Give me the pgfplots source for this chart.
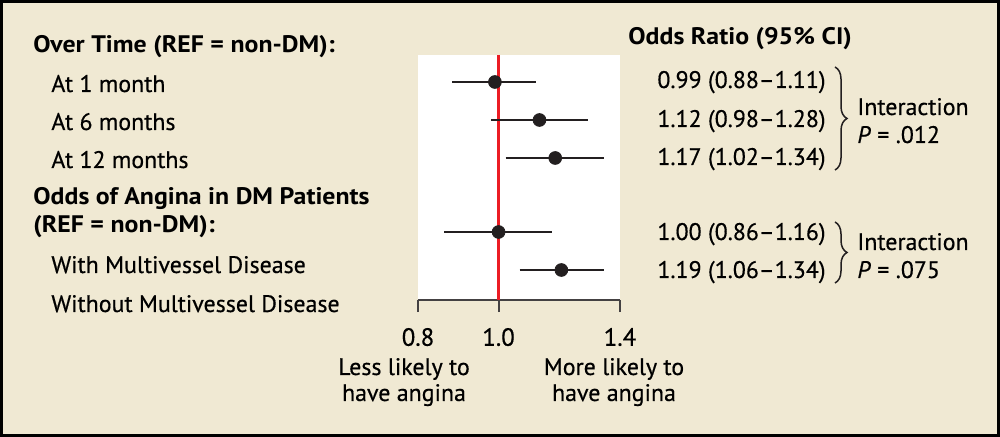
\documentclass[border=0pt]{standalone}
\usepackage{pgfplots}
\pgfplotsset{compat=1.18}
\usepackage{fontspec}
\setmainfont{PT Sans}[UprightFeatures={FakeBold=0.5}, ItalicFeatures={FakeBold=0.5}, BoldFeatures={FakeStretch=1.08}]
\usetikzlibrary{decorations.pathreplacing}
\definecolor{bg}{RGB}{240,233,211}
\definecolor{ink}{RGB}{35,31,32}
\definecolor{refred}{RGB}{236,28,36}
\begin{document}
\begin{tikzpicture}[font=\fontsize{12}{14}\selectfont]
% frame: one unit = one pixel of the reference, y running down
\begin{scope}[x=0.5bp,y=-0.5bp,yshift=218.5bp]
\draw[line width=1.5bp, fill=bg] (1.5,1.5) rectangle (998.5,435.5);
\end{scope}

\begin{axis}[
    at={(209bp,68.5bp)}, anchor=south west,
    scale only axis, width=101bp, height=122.5bp,
    xmode=log, xmin=0.8, xmax=1.4,
    ymin=55, ymax=300, y dir=reverse,
    axis x line=bottom, axis y line=none,
    axis line style={ink!85, line width=1bp, -},
    axis background/.style={fill=white},
    xtick={0.8,1,1.4}, xticklabels={0.8,1.0,1.4},
    minor xtick={}, tick align=outside,
    major tick length=6bp, tick style={ink!85, line width=1bp},
    xticklabel style={font=\fontsize{12.5}{14}\selectfont, yshift=-4.5bp},
    /pgf/number format/assume math mode=true,
    clip=false,
]
% reference line at OR = 1
\addplot[refred, line width=1.5bp] coordinates {(1,55) (1,300)};
% 95% CIs (row position in reference pixels)
\addplot[ink, line width=1.4bp] coordinates {(0.88,82) (1.11,82)};
\addplot[ink, line width=1.4bp] coordinates {(0.98,120) (1.28,120)};
\addplot[ink, line width=1.4bp] coordinates {(1.02,158) (1.34,158)};
\addplot[ink, line width=1.4bp] coordinates {(0.86,232) (1.16,232)};
\addplot[ink, line width=1.4bp] coordinates {(1.06,270) (1.34,270)};
% odds ratios
\addplot[only marks, mark=*, mark size=3.2bp, ink] coordinates {
  (0.99,82) (1.12,120) (1.17,158) (1.00,232) (1.19,270)};
\end{axis}

\begin{scope}[x=0.5bp,y=-0.5bp,yshift=218.5bp,every node/.append style={inner sep=0pt}]
% left labels
\node[anchor=base west] at (33,53) {\textbf{Over Time (REF = non-DM):}};
\node[anchor=base west] at (51,92) {At 1 month};
\node[anchor=base west] at (51,130) {At 6 months};
\node[anchor=base west] at (51,168) {At 12 months};
\node[anchor=base west] at (33,205) {\textbf{Odds of Angina in DM Patients}};
\node[anchor=base west] at (33,233) {\textbf{(REF = non-DM):}};
\node[anchor=base west] at (51,273) {With Multivessel Disease};
\node[anchor=base west] at (51,312) {Without Multivessel Disease};

% right column
\node[anchor=base west] at (628,45) {\textbf{Odds Ratio (95\% CI)}};
\node[anchor=base east] at (826,88) {0.99 (0.88--1.11)};
\node[anchor=base east] at (826,127) {1.12 (0.98--1.28)};
\node[anchor=base east] at (826,165) {1.17 (1.02--1.34)};
\node[anchor=base east] at (826,240) {1.00 (0.86--1.16)};
\node[anchor=base east] at (826,278) {1.19 (1.06--1.34)};
\draw[ink, line width=0.75bp, decorate, decoration={brace, amplitude=6bp}] (835,67) -- (835,170);
\draw[ink, line width=0.75bp, decorate, decoration={brace, amplitude=6bp}] (835,222) -- (835,283);
\node[anchor=base west] at (857,115) {Interaction};
\node[anchor=base west] at (857,143) {\textit{P} = .012};
\node[anchor=base west] at (857,250) {Interaction};
\node[anchor=base west] at (857,278) {\textit{P} = .075};

% bottom captions
\node[anchor=base] at (404,375) {Less likely to};
\node[anchor=base] at (404,401) {have angina};
\node[anchor=base] at (614,375) {More likely to};
\node[anchor=base] at (614,401) {have angina};
\end{scope}
\end{tikzpicture}
\end{document}
